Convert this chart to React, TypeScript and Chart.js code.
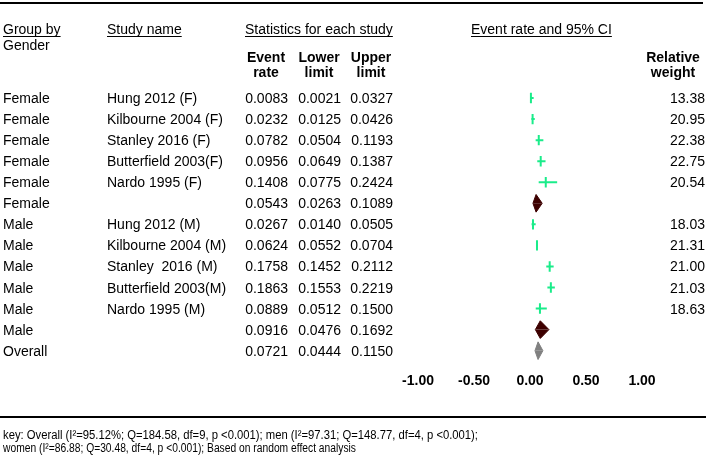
import React, { useEffect, useRef } from "react";
import { Chart, registerables } from "chart.js";

Chart.register(...registerables);

// ---------- data ----------
const groups = ["Female", "Female", "Female", "Female", "Female", "Female", "Male", "Male", "Male", "Male", "Male", "Male", "Overall"];
const studies = ["Hung 2012 (F)", "Kilbourne 2004 (F)", "Stanley 2016 (F)", "Butterfield 2003(F)", "Nardo 1995 (F)", "", "Hung 2012 (M)", "Kilbourne 2004 (M)", "Stanley  2016 (M)", "Butterfield 2003(M)", "Nardo 1995 (M)", "", ""];
const rowKinds = ["study", "study", "study", "study", "study", "sub", "study", "study", "study", "study", "study", "sub", "overall"];
const eventRates = [0.0083, 0.0232, 0.0782, 0.0956, 0.1408, 0.0543, 0.0267, 0.0624, 0.1758, 0.1863, 0.0889, 0.0916, 0.0721];
const lowerLimits = [0.0021, 0.0125, 0.0504, 0.0649, 0.0775, 0.0263, 0.0140, 0.0552, 0.1452, 0.1553, 0.0512, 0.0476, 0.0444];
const upperLimits = [0.0327, 0.0426, 0.1193, 0.1387, 0.2424, 0.1089, 0.0505, 0.0704, 0.2112, 0.2219, 0.1500, 0.1692, 0.1150];
const relWeights = ["13.38", "20.95", "22.38", "22.75", "20.54", "", "18.03", "21.31", "21.00", "21.03", "18.63", "", ""];
const xTicks = [-1, -0.5, 0, 0.5, 1];
const keyLines = [
  "key: Overall (I\u00B2=95.12%; Q=184.58, df=9, p <0.001); men (I\u00B2=97.31; Q=148.77, df=4, p <0.001);",
  "women (I\u00B2=86.88; Q=30.48, df=4, p <0.001); Based on random effect analysis",
];

const FONT = '"Liberation Sans", Arial, Helvetica, sans-serif';
const GREEN = "#1aec8a";
const DARK = "#3d0000";
const GREY = "#808080";

const tablePlugin = {
  id: "forestTable",
  afterDraw(chart: any) {
    const ctx: CanvasRenderingContext2D = chart.ctx;
    const ys = chart.scales.y;
    ctx.save();
    ctx.fillStyle = "#000";
    ctx.strokeStyle = "#000";
    // rules
    ctx.fillRect(0, 2, 703, 2);
    ctx.fillRect(0, 416, 706, 2);

    const text = (s: string, x: number, y: number, align: CanvasTextAlign, bold = false, size = 14, underline = false) => {
      ctx.font = `${bold ? "bold " : ""}${size}px ${FONT}`;
      ctx.textAlign = align;
      ctx.textBaseline = "alphabetic";
      ctx.fillText(s, x, y);
      if (underline) {
        const w = ctx.measureText(s).width;
        const x0 = align === "left" ? x : align === "right" ? x - w : x - w / 2;
        ctx.fillRect(x0, y + 2, w, 1);
      }
    };

    // headers
    text("Group by", 3, 34, "left", false, 14, true);
    text("Gender", 3, 50, "left");
    text("Study name", 107, 34, "left", false, 14, true);
    text("Statistics for each study", 245, 34, "left", false, 14, true);
    text("Event rate and 95% CI", 471, 34, "left", false, 14, true);
    text("Event", 266, 62, "center", true);
    text("rate", 266, 77, "center", true);
    text("Lower", 319, 62, "center", true);
    text("limit", 319, 77, "center", true);
    text("Upper", 371, 62, "center", true);
    text("limit", 371, 77, "center", true);
    text("Relative", 673, 62, "center", true);
    text("weight", 673, 77, "center", true);

    // rows
    for (let i = 0; i < groups.length; i++) {
      const y = ys.getPixelForValue(i) + 5;
      text(groups[i], 3, y, "left");
      if (studies[i]) text(studies[i], 107, y, "left");
      text(eventRates[i].toFixed(4), 288, y, "right");
      text(lowerLimits[i].toFixed(4), 341, y, "right");
      text(upperLimits[i].toFixed(4), 393, y, "right");
      if (relWeights[i]) text(relWeights[i], 705, y, "right");
    }

    // key
    ctx.font = `12px ${FONT}`;
    ctx.textAlign = "left";
    ctx.fillText(keyLines[0], 3, 439, 475);
    ctx.fillText(keyLines[1], 3, 452, 353);
    ctx.restore();
  },
};

export default function App() {
  const ref = useRef<HTMLCanvasElement | null>(null);

  useEffect(() => {
    if (!ref.current) return;
    const datasets: any[] = [];
    // confidence interval lines for the individual studies
    rowKinds.forEach((k, i) => {
      if (k !== "study") return;
      datasets.push({
        data: [
          { x: lowerLimits[i], y: i },
          { x: upperLimits[i], y: i },
        ],
        showLine: true,
        borderColor: GREEN,
        borderWidth: 2,
        pointRadius: 0,
        fill: false,
      });
    });
    // point estimates (vertical ticks)
    datasets.push({
      data: rowKinds.map((k, i) => (k === "study" ? { x: eventRates[i], y: i } : null)).filter(Boolean),
      showLine: false,
      pointStyle: "line",
      rotation: 90,
      pointRadius: 5.2,
      borderColor: GREEN,
      borderWidth: 2,
      backgroundColor: GREEN,
    });
    // diamonds for summaries
    rowKinds.forEach((k, i) => {
      if (k === "study") return;
      const col = k === "overall" ? GREY : DARK;
      const h = 0.42;
      [-h, h].forEach((d) => {
        datasets.push({
          data: [
            { x: lowerLimits[i], y: i },
            { x: eventRates[i], y: i + d },
            { x: upperLimits[i], y: i },
          ],
          showLine: true,
          tension: 0,
          borderColor: col,
          borderWidth: 1,
          backgroundColor: col,
          pointRadius: 0,
          fill: { value: i },
        });
      });
    });

    const chart = new Chart(ref.current, {
      type: "scatter",
      data: { datasets },
      options: {
        animation: false,
        responsive: false,
        events: [],
        layout: { padding: { left: 418, right: 68, top: 87.5, bottom: 53 } },
        plugins: { legend: { display: false }, tooltip: { enabled: false } },
        scales: {
          x: {
            type: "linear",
            min: -1,
            max: 1,
            afterBuildTicks: (scale: any) => {
              scale.ticks = xTicks.map((v) => ({ value: v }));
            },
            ticks: {
              callback: (v: any) => Number(v).toFixed(2),
              font: { family: FONT, size: 14, weight: "bold" },
              color: "#000",
              padding: 12,
              maxRotation: 0,
              autoSkip: false,
            },
            grid: { display: false, drawTicks: false },
            border: { display: false },
          },
          y: {
            type: "linear",
            min: -0.5,
            max: 12.5,
            reverse: true,
            display: false,
          },
        },
      } as any,
      plugins: [tablePlugin],
    });
    return () => chart.destroy();
  }, []);

  return (
    <div style={{ position: "absolute", left: 0, top: 0, width: 710, height: 455, background: "#fff" }}>
      <canvas ref={ref} width={710} height={455} style={{ width: 710, height: 455, display: "block" }} />
    </div>
  );
}
